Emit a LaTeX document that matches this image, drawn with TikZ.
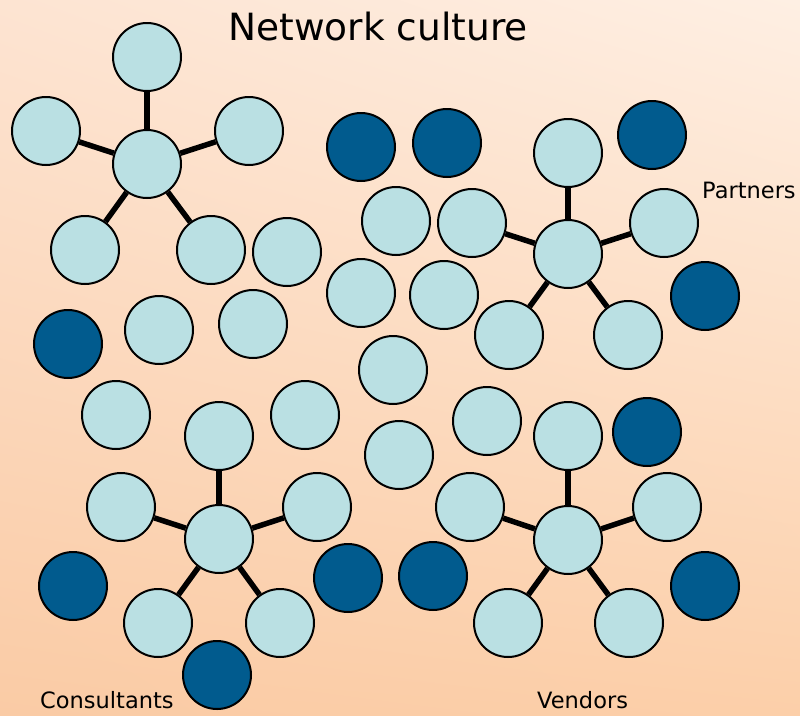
\documentclass[tikz,border=0pt]{standalone}
\usepackage{fontspec}
\setmainfont{DejaVu Sans}
\usepackage{tikz}
\usetikzlibrary{positioning,shadings}

\definecolor{nodelight}{HTML}{BAE0E3}
\definecolor{nodedark}{HTML}{015B8E}
\definecolor{paperUL}{HTML}{FDE4D2}
\definecolor{paperUR}{HTML}{FEEFE3}
\definecolor{paperLL}{HTML}{FACBA5}
\definecolor{paperLR}{HTML}{FCCFA9}

\begin{document}
\begin{tikzpicture}[x=1pt, y=-1pt,
    member/.style={draw, circle, line width=2pt, fill=nodelight, minimum size=68pt, inner sep=0pt},
    outsider/.style={member, fill=nodedark},
    link/.style={line width=5.5pt},
    group/.style={font=\fontsize{22.5}{26}\selectfont, inner sep=0pt}]
  % Background
  \shade[upper left=paperUL, upper right=paperUR, lower left=paperLL, lower right=paperLR]
    (0,0) rectangle (800,715);
  \useasboundingbox (0,0) rectangle (800,715);

  % Title
  \node[anchor=base, inner sep=0pt, font=\fontsize{37.5}{42}\selectfont] (title) at (378,40) {Network culture};

  % Star top left
  \node[member] (inner) at (147,164) {};
  \node[member] (inner-top) at (147,57) {};
  \node[member] (inner-left) at (46,131) {};
  \node[member] (inner-right) at (249,131) {};
  \node[member] (inner-bl) at (85,250) {};
  \node[member] (inner-br) at (211,250) {};

  % Star partners
  \node[member] (partners) at (568,254) {};
  \node[member] (partners-top) at (568,153) {};
  \node[member] (partners-left) at (472,223) {};
  \node[member] (partners-right) at (664,223) {};
  \node[member] (partners-bl) at (509,335) {};
  \node[member] (partners-br) at (628,335) {};

  % Star consultants
  \node[member] (consultants) at (219,539) {};
  \node[member] (consultants-top) at (219,436) {};
  \node[member] (consultants-left) at (121,507) {};
  \node[member] (consultants-right) at (317,507) {};
  \node[member] (consultants-bl) at (158,623) {};
  \node[member] (consultants-br) at (280,623) {};

  % Star vendors
  \node[member] (vendors) at (568,540) {};
  \node[member] (vendors-top) at (568,436) {};
  \node[member] (vendors-left) at (470,507) {};
  \node[member] (vendors-right) at (667,507) {};
  \node[member] (vendors-bl) at (508,623) {};
  \node[member] (vendors-br) at (629,623) {};

  % Loose members
  \node[member] (loose1) at (287,252) {};
  \node[member] (loose2) at (159,330) {};
  \node[member] (loose3) at (253,324) {};
  \node[member] (loose4) at (396,221) {};
  \node[member] (loose5) at (361,293) {};
  \node[member] (loose6) at (444,295) {};
  \node[member] (loose7) at (393,370) {};
  \node[member] (loose8) at (487,421) {};
  \node[member] (loose9) at (399,455) {};
  \node[member] (loose10) at (116,415) {};
  \node[member] (loose11) at (305,415) {};

  % Outsiders
  \node[outsider] (out1) at (361,147) {};
  \node[outsider] (out2) at (447,143) {};
  \node[outsider] (out3) at (652,135) {};
  \node[outsider] (out4) at (705,296) {};
  \node[outsider] (out5) at (68,344) {};
  \node[outsider] (out6) at (647,432) {};
  \node[outsider] (out7) at (73,586) {};
  \node[outsider] (out8) at (348,578) {};
  \node[outsider] (out9) at (433,576) {};
  \node[outsider] (out10) at (705,586) {};
  \node[outsider] (out11) at (217,675) {};

  % Links
  \draw[link] (inner) -- (inner-top);
  \draw[link] (inner) -- (inner-left);
  \draw[link] (inner) -- (inner-right);
  \draw[link] (inner) -- (inner-bl);
  \draw[link] (inner) -- (inner-br);
  \draw[link] (partners) -- (partners-top);
  \draw[link] (partners) -- (partners-left);
  \draw[link] (partners) -- (partners-right);
  \draw[link] (partners) -- (partners-bl);
  \draw[link] (partners) -- (partners-br);
  \draw[link] (consultants) -- (consultants-top);
  \draw[link] (consultants) -- (consultants-left);
  \draw[link] (consultants) -- (consultants-right);
  \draw[link] (consultants) -- (consultants-bl);
  \draw[link] (consultants) -- (consultants-br);
  \draw[link] (vendors) -- (vendors-top);
  \draw[link] (vendors) -- (vendors-left);
  \draw[link] (vendors) -- (vendors-right);
  \draw[link] (vendors) -- (vendors-bl);
  \draw[link] (vendors) -- (vendors-br);

  % Group labels
  \node[group, anchor=base west] (partners-label) at (702,198) {Partners};
  \node[group, anchor=base west] (consultants-label) at (40,708) {Consultants};
  \node[group, anchor=base west] (vendors-label) at (537,708) {Vendors};
\end{tikzpicture}
\end{document}
